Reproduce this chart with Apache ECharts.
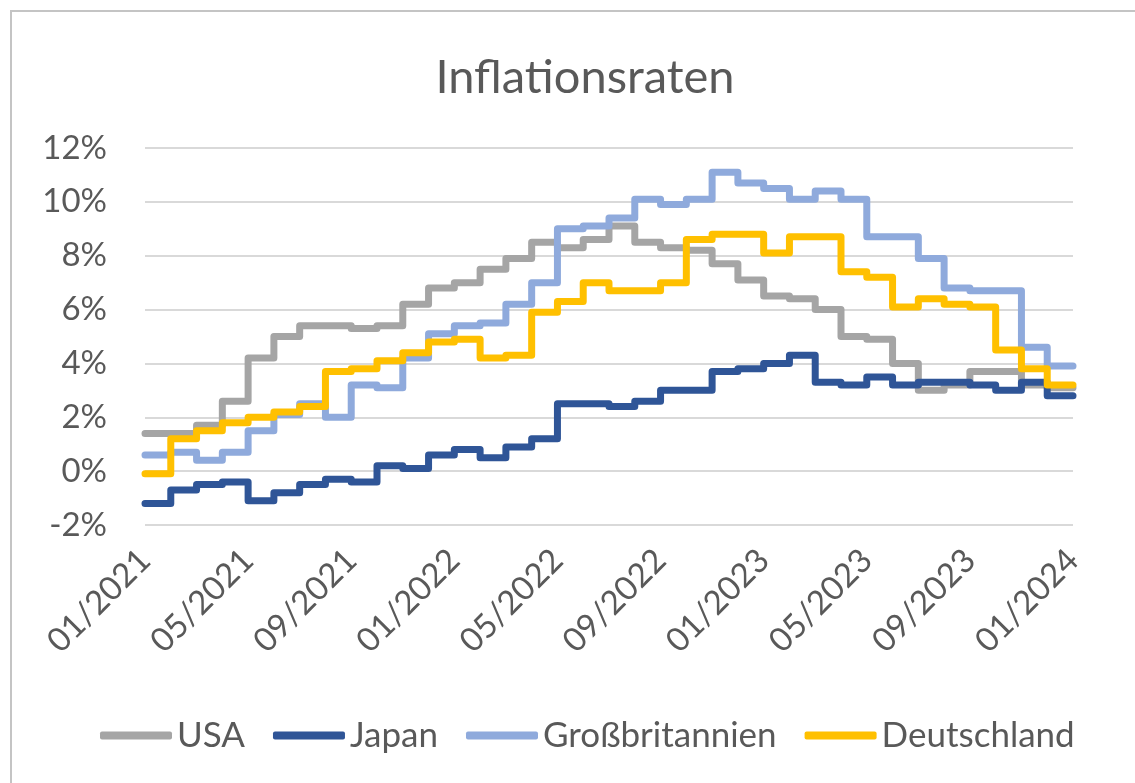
<!DOCTYPE html>
<html>
<head>
<meta charset="utf-8">
<title>Inflationsraten</title>
<script src="https://cdn.jsdelivr.net/npm/echarts@6/dist/echarts.min.js"></script>
<style>
  html, body { margin: 0; padding: 0; background: #fff; }
  #main { width: 1135px; height: 783px; }
</style>
</head>
<body>
<div id="main"></div>
<script>
// Monate (Kategorien der x-Achse)
var monate = ['01/2021','02/2021','03/2021','04/2021','05/2021','06/2021','07/2021','08/2021','09/2021','10/2021','11/2021','12/2021',
              '01/2022','02/2022','03/2022','04/2022','05/2022','06/2022','07/2022','08/2022','09/2022','10/2022','11/2022','12/2022',
              '01/2023','02/2023','03/2023','04/2023','05/2023','06/2023','07/2023','08/2023','09/2023','10/2023','11/2023','12/2023',
              '01/2024'];

// Inflationsraten in % (Stufe gilt bis zum naechsten Monat)
var usa = [1.4,1.4,1.7,2.6,4.2,5.0,5.4,5.4,5.3,5.4,6.2,6.8,7.0,7.5,7.9,8.5,8.3,8.6,9.1,8.5,8.3,8.2,7.7,7.1,6.5,6.4,6.0,5.0,4.9,4.0,3.0,3.2,3.7,3.7,3.2,3.1,3.1];
var japan = [-1.2,-0.7,-0.5,-0.4,-1.1,-0.8,-0.5,-0.3,-0.4,0.2,0.1,0.6,0.8,0.5,0.9,1.2,2.5,2.5,2.4,2.6,3.0,3.0,3.7,3.8,4.0,4.3,3.3,3.2,3.5,3.2,3.3,3.3,3.2,3.0,3.3,2.8,2.8];
var gb = [0.6,0.7,0.4,0.7,1.5,2.1,2.5,2.0,3.2,3.1,4.2,5.1,5.4,5.5,6.2,7.0,9.0,9.1,9.4,10.1,9.9,10.1,11.1,10.7,10.5,10.1,10.4,10.1,8.7,8.7,7.9,6.8,6.7,6.7,4.6,3.9,3.9];
var deutschland = [-0.1,1.2,1.5,1.8,2.0,2.2,2.4,3.7,3.8,4.1,4.4,4.8,4.9,4.2,4.3,5.9,6.3,7.0,6.7,6.7,7.0,8.6,8.8,8.8,8.1,8.7,8.7,7.4,7.2,6.1,6.4,6.2,6.1,4.5,3.8,3.2,3.2];

var laender = ['USA', 'Japan', 'Großbritannien', 'Deutschland'];
var farben = ['#a5a5a5', '#2f5597', '#8faadc', '#ffc000'];
var werte = [usa, japan, gb, deutschland];

var schrift = 'Lato';
var textFarbe = '#595959';

var chart = echarts.init(document.getElementById('main'));

var reihen = [];
for (var i = 0; i < laender.length; i++) {
  reihen.push({
    name: laender[i],
    type: 'line',
    step: 'end',
    data: werte[i],
    symbol: 'none',
    itemStyle: { color: farben[i] },
    lineStyle: { color: farben[i], width: 7, cap: 'round', join: 'round' }
  });
}

var option = {
  animation: false,
  backgroundColor: '#fff',
  textStyle: { fontFamily: schrift },
  // Rahmen des Diagramms
  graphic: [{
    type: 'rect',
    shape: { x: 11, y: 11, width: 1300, height: 900 },
    style: { fill: 'none', stroke: '#c4c4c4', lineWidth: 2 },
    silent: true
  }],
  title: {
    text: 'Inflationsraten',
    left: 580,
    textAlign: 'center',
    top: 49,
    textStyle: { fontFamily: schrift, fontSize: 47, fontWeight: 'normal', color: textFarbe }
  },
  legend: {
    data: laender,
    left: 95,
    top: 713,
    icon: 'roundRect',
    itemWidth: 72,
    itemHeight: 8,
    itemGap: 28,
    textStyle: { fontFamily: schrift, fontSize: 35, color: textFarbe }
  },
  grid: { left: 145, right: 62, top: 148, bottom: 258 },
  xAxis: {
    type: 'category',
    data: monate,
    boundaryGap: false,
    axisLine: { show: false },
    axisTick: { show: false },
    splitLine: { show: false },
    axisLabel: {
      interval: 3,
      rotate: 45,
      margin: 30,
      fontFamily: schrift,
      fontSize: 33,
      color: textFarbe
    }
  },
  yAxis: {
    type: 'value',
    min: -2,
    max: 12,
    interval: 2,
    axisLine: { show: false },
    axisTick: { show: false },
    splitLine: { lineStyle: { color: '#d9d9d9', width: 2 } },
    axisLabel: {
      formatter: '{value}%',
      margin: 38,
      fontFamily: schrift,
      fontSize: 33,
      color: textFarbe
    }
  },
  series: reihen
};

chart.setOption(option);
</script>
</body>
</html>
